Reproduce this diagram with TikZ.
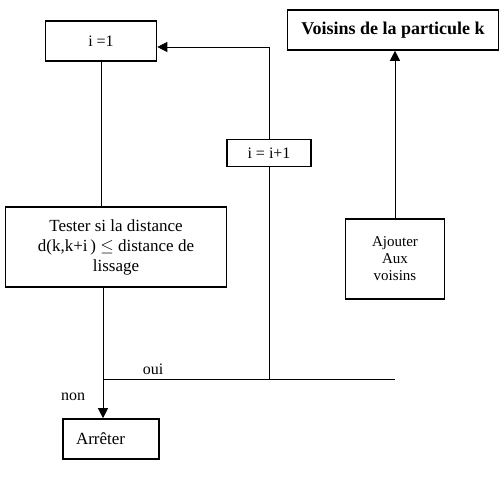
\documentclass[tikz,border=0pt]{standalone}
\usepackage{fontspec}
\setmainfont{Liberation Serif}
\usetikzlibrary{arrows.meta}

\begin{document}
\begin{tikzpicture}[
  x=1pt, y=-1pt,
  font=\fontsize{16}{19}\selectfont,
  bx/.style={draw, line width=1.6pt, inner sep=2pt, align=center},
  >={Triangle[length=10pt, width=10pt]},
  every path/.style={line width=0.8pt}
]
\useasboundingbox (0,0) rectangle (504,481);

\node[bx, minimum width=111pt, minimum height=40pt] (init)   at (101,41)  {i =1};
\node[bx, minimum width=211pt, minimum height=40pt, font=\fontsize{18}{21}\selectfont\bfseries]
  (voisins) at (393,30) {Voisins de la particule k};
\node[bx, minimum width=84pt, minimum height=27pt]  (incr)   at (269,153) {i = i+1};
\node[bx, minimum width=221pt, minimum height=80pt, font=\fontsize{17}{20}\selectfont]
  (tester) at (116,247) {Tester si la distance\\d(k,k+i\,) $\leq$ distance de\\lissage};
\node[bx, minimum width=99pt, minimum height=80pt, font=\fontsize{15}{17}\selectfont]
  (ajout)  at (395,259) {Ajouter\\Aux\\voisins};
\node[bx, minimum width=96pt, minimum height=40pt, align=left, text width=70pt, font=\fontsize{17}{20}\selectfont]
  (stop)   at (111,439) {Arrêter};

\coordinate (jonc) at (103,379);

\draw (init.south) -- (init.south |- tester.north);
\draw[->] (tester.south -| jonc) -- (stop.north -| jonc);
\draw (jonc) -- (ajout.south |- jonc);
\draw (incr.south) -- (incr.south |- jonc);
\draw[->] (incr.north) |- ([yshift=-6pt]init.east);
\draw[->] (ajout.north) -- (ajout.north |- voisins.south);

\node (oui) at (153,369) {oui};
\node (non) at (73,397) {non};

\end{tikzpicture}
\end{document}
